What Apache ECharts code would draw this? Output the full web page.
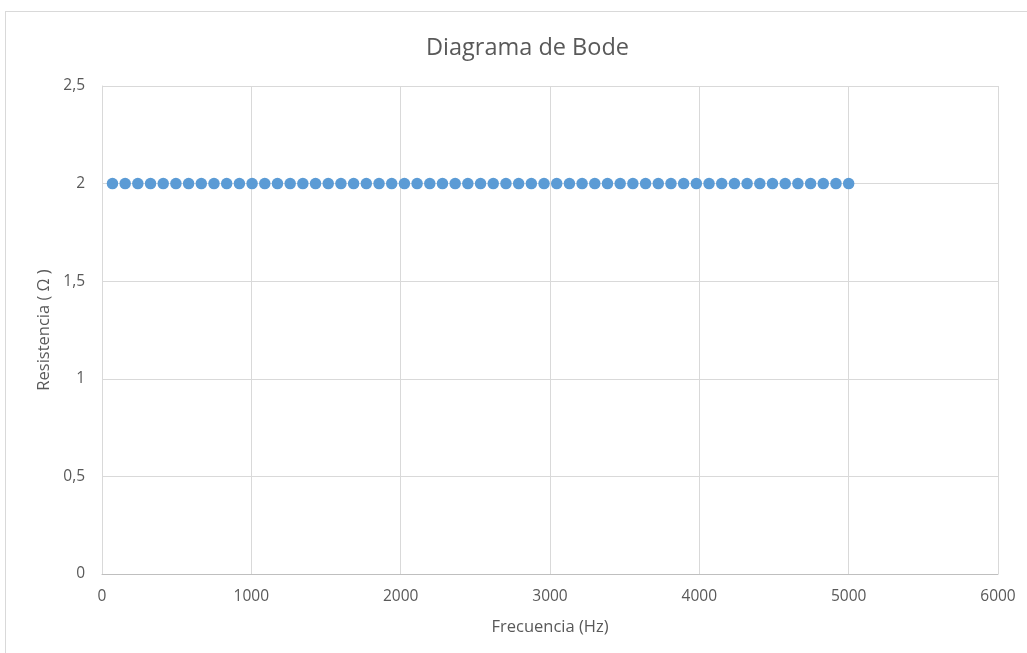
<!DOCTYPE html>
<html>
<head>
<meta charset="utf-8">
<title>Diagrama de Bode</title>
<script src="https://cdn.jsdelivr.net/npm/echarts@6/dist/echarts.min.js"></script>
<style>
  html, body { margin: 0; padding: 0; background: #ffffff; }
  #frame { position: absolute; left: 5px; top: 11px; width: 1030px; height: 650px;
           border: 1px solid #d9d9d9; box-sizing: border-box; }
  #chart { position: absolute; left: 0; top: 0; width: 1027px; height: 653px; }
</style>
</head>
<body>
<div id="frame"></div>
<div id="chart"></div>
<script>
// Frequency sweep (Hz) and measured resistance (ohm)
const frecuencia = [
  70, 155, 240, 325, 410, 495, 580, 665, 750, 835,
  920, 1005, 1090, 1175, 1260, 1345, 1430, 1515, 1600, 1685,
  1770, 1855, 1940, 2025, 2110, 2195, 2280, 2365, 2450, 2535,
  2620, 2705, 2790, 2875, 2960, 3045, 3130, 3215, 3300, 3385,
  3470, 3555, 3640, 3725, 3810, 3895, 3980, 4065, 4150, 4235,
  4320, 4405, 4490, 4575, 4660, 4745, 4830, 4915, 5000
];
const resistencia = [
  2, 2, 2, 2, 2, 2, 2, 2, 2, 2,
  2, 2, 2, 2, 2, 2, 2, 2, 2, 2,
  2, 2, 2, 2, 2, 2, 2, 2, 2, 2,
  2, 2, 2, 2, 2, 2, 2, 2, 2, 2,
  2, 2, 2, 2, 2, 2, 2, 2, 2, 2,
  2, 2, 2, 2, 2, 2, 2, 2, 2
];
const titulo = 'Diagrama de Bode';
const ejeX = 'Frecuencia (Hz)';
const ejeY = 'Resistencia ( Ω )';

const puntos = frecuencia.map((f, i) => [f, resistencia[i]]);
const fuente = 'Open Sans';
const gris = '#595959';

const chart = echarts.init(document.getElementById('chart'), null, { renderer: 'canvas' });
chart.setOption({
  animation: false,
  title: {
    text: titulo,
    left: 421,
    top: 31,
    textStyle: { fontFamily: fuente, fontSize: 23.5, fontWeight: 'normal', color: gris }
  },
  grid: { left: 102, right: 29, top: 86, bottom: 79, containLabel: false },
  xAxis: {
    type: 'value',
    min: 0, max: 6000, interval: 1000,
    name: ejeX,
    nameLocation: 'middle',
    nameGap: 45,
    nameTextStyle: { fontFamily: fuente, fontSize: 16.5, color: gris },
    axisLine: { show: true, lineStyle: { color: '#bfbfbf', width: 1 } },
    axisTick: { show: false },
    axisLabel: {
      fontFamily: fuente, fontSize: 15.5, color: gris, margin: 15,
      formatter: v => String(v)
    },
    splitLine: { show: true, lineStyle: { color: '#d9d9d9', width: 1 } }
  },
  yAxis: {
    type: 'value',
    min: 0, max: 2.5, interval: 0.5,
    name: ejeY,
    nameLocation: 'middle',
    nameGap: 48,
    nameTextStyle: { fontFamily: fuente, fontSize: 16.5, color: gris },
    axisLine: { show: true, lineStyle: { color: '#d9d9d9', width: 1 } },
    axisTick: { show: false },
    axisLabel: {
      fontFamily: fuente, fontSize: 15.5, color: gris, margin: 17,
      formatter: v => String(v).replace('.', ',')
    },
    splitLine: { show: true, lineStyle: { color: '#d9d9d9', width: 1 } }
  },
  series: [{
    type: 'scatter',
    data: puntos,
    symbol: 'circle',
    symbolSize: 11.5,
    itemStyle: { color: '#5b9bd5', opacity: 1 }
  }]
});
</script>
</body>
</html>
